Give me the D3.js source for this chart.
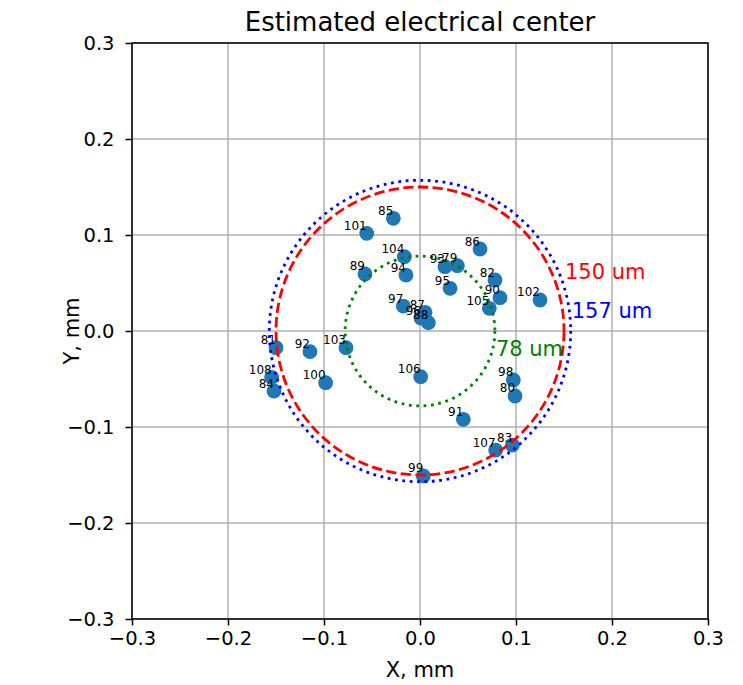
<!DOCTYPE html>
<html>
<head>
<meta charset="utf-8">
<script src="https://cdn.jsdelivr.net/npm/d3@7"></script>
<style>
  html, body { margin: 0; padding: 0; background: #fff; }
  svg { display: block; font-family: "DejaVu Sans", sans-serif; }
</style>
</head>
<body>
<svg id="chart" width="743" height="685"></svg>
<script>
// ---- data ----
const ids = [79, 80, 81, 82, 83, 84, 85, 86, 87, 88, 89, 90, 91, 92, 93, 94, 95, 96, 97, 98, 99, 100, 101, 102, 103, 104, 105, 106, 107, 108];
const xs = [0.0389, 0.0990, -0.1500, 0.0781, 0.0962, -0.1521, -0.0278, 0.0625, 0.0052, 0.0087,
            -0.0573, 0.0833, 0.0451, -0.1146, 0.0260, -0.0146, 0.0313, 0.0010, -0.0174, 0.0972,
            0.0035, -0.0983, -0.0555, 0.1250, -0.0771, -0.0163, 0.0722, 0.0007, 0.0788, -0.1545];
const ys = [0.0680, -0.0677, -0.0174, 0.0531, -0.1188, -0.0625, 0.1174, 0.0854, 0.0195, 0.0086,
            0.0594, 0.0347, -0.0920, -0.0215, 0.0670, 0.0583, 0.0445, 0.0135, 0.0260, -0.0510,
            -0.1510, -0.0538, 0.1017, 0.0323, -0.0174, 0.0774, 0.0236, -0.0476, -0.1240, -0.0483];
const circleRadii = [0.150, 0.157, 0.078];
const circleLabels = ["150 um", "157 um", "78 um"];
const circleColors = ["red", "blue", "green"];
const tickValues = [-0.3, -0.2, -0.1, 0.0, 0.1, 0.2, 0.3];
const domain = [-0.3, 0.3];

// ---- layout ----
const svg = d3.select("#chart");
const L = 132, T = 43, W = 576, H = 576;
const x = d3.scaleLinear().domain(domain).range([L, L + W]);
const y = d3.scaleLinear().domain(domain).range([T + H, T]);
const fmt = v => d3.format(".1f")(v).replace("-", "\u2212");

// grid
const grid = svg.append("g");
grid.selectAll("line.gx").data(tickValues).join("line")
  .attr("x1", d => x(d)).attr("x2", d => x(d)).attr("y1", T).attr("y2", T + H)
  .attr("stroke", "#b0b0b0").attr("stroke-width", 1.5);
grid.selectAll("line.gy").data(tickValues).join("line")
  .attr("y1", d => y(d)).attr("y2", d => y(d)).attr("x1", L).attr("x2", L + W)
  .attr("stroke", "#b0b0b0").attr("stroke-width", 1.5);

// points
const pts = ids.map((id, i) => ({ id, x: xs[i], y: ys[i] }));
svg.append("g").selectAll("circle").data(pts).join("circle")
  .attr("cx", d => x(d.x)).attr("cy", d => y(d.y)).attr("r", 7.4)
  .attr("fill", "#1f77b4");

// reference circles
const dashes = ["10.3,4.4", "2.8,4.6", "2.8,4.6"];
const circ = circleRadii.map((r, i) => ({ r, label: circleLabels[i], color: circleColors[i], dash: dashes[i] }));
svg.append("g").selectAll("circle").data(circ).join("circle")
  .attr("cx", x(0)).attr("cy", y(0))
  .attr("r", d => x(d.r) - x(0))
  .attr("fill", "none").attr("stroke", d => d.color)
  .attr("stroke-width", 2.8).attr("stroke-dasharray", d => d.dash);

// point labels
svg.append("g").selectAll("text").data(pts).join("text")
  .attr("x", d => x(d.x)).attr("y", d => y(d.y) - 3.5)
  .attr("text-anchor", "end").attr("font-size", 12).attr("fill", "#000")
  .text(d => d.id);

// circle labels (offsets in px relative to radius point)
const labelOffsets = [[1, -52], [1, -13], [1, 25]];
svg.append("g").selectAll("text").data(circ).join("text")
  .attr("x", (d, i) => x(d.r) + labelOffsets[i][0])
  .attr("y", (d, i) => y(0) + labelOffsets[i][1])
  .attr("font-size", 21).attr("fill", d => d.color)
  .text(d => d.label);

// axes
const xAxis = d3.axisBottom(x).tickValues(tickValues).tickFormat(fmt).tickSize(6.5).tickPadding(5.5);
const yAxis = d3.axisLeft(y).tickValues(tickValues).tickFormat(fmt).tickSize(6.5).tickPadding(11);
const gx = svg.append("g").attr("transform", `translate(0,${T + H})`).call(xAxis);
const gy = svg.append("g").attr("transform", `translate(${L},0)`).call(yAxis);
[gx, gy].forEach(g => {
  g.select(".domain").remove();
  g.selectAll(".tick line").attr("stroke", "#000").attr("stroke-width", 1.5);
  g.selectAll(".tick text").attr("font-size", 19.5).attr("fill", "#000")
    .attr("font-family", "DejaVu Sans, sans-serif");
});

// spines
svg.append("rect").attr("x", L).attr("y", T).attr("width", W).attr("height", H)
  .attr("fill", "none").attr("stroke", "#000").attr("stroke-width", 1.5);

// title & labels
svg.append("text").attr("x", L + W / 2).attr("y", 31).attr("text-anchor", "middle")
  .attr("font-size", 26).attr("fill", "#000").text("Estimated electrical center");
svg.append("text").attr("x", L + W / 2).attr("y", 677).attr("text-anchor", "middle")
  .attr("font-size", 21).attr("fill", "#000").text("X, mm");
svg.append("text").attr("transform", `translate(79,${T + H / 2}) rotate(-90)`)
  .attr("text-anchor", "middle").attr("font-size", 21).attr("fill", "#000").text("Y, mm");
</script>
</body>
</html>
